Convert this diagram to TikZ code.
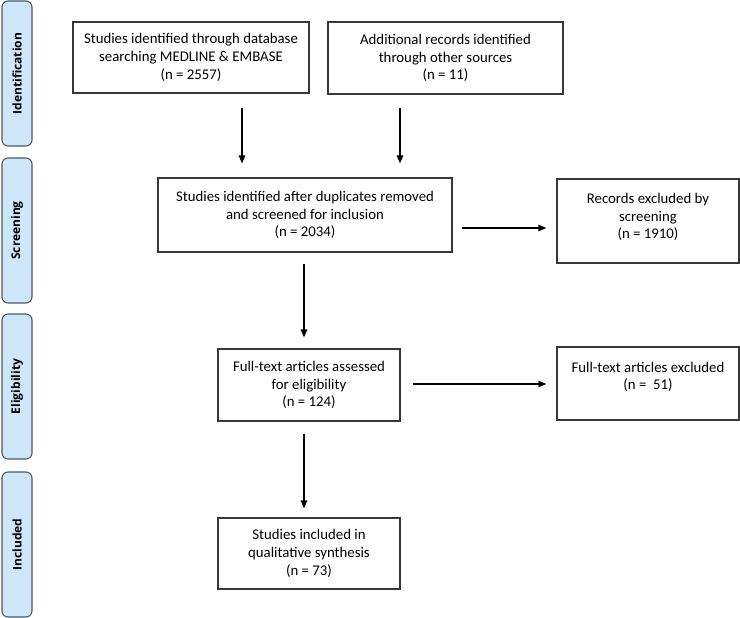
\documentclass[tikz,border=0pt]{standalone}
\usepackage{fontspec}
\setmainfont{Carlito}
\newfontfamily\sidefont{Open Sans}
\usetikzlibrary{arrows.meta}
\definecolor{barfill}{RGB}{206,231,250}
\definecolor{bardraw}{RGB}{78,88,98}
\definecolor{boxdraw}{RGB}{55,55,55}
\tikzset{
  stagebar/.style={draw=bardraw, fill=barfill, line width=1.1pt, rounded corners=6pt},
  stagetext/.style={font=\sidefont\bfseries\fontsize{12}{13}\selectfont, rotate=90, text=black},
  flowbox/.style={draw=boxdraw, line width=1.2pt, align=center, inner sep=0pt,
    font=\fontsize{14.8}{17.7}\selectfont},
  arr/.style={line width=1.2pt, draw=black, -{Triangle[length=8pt,width=6.5pt]}}
}
\begin{document}
\begin{tikzpicture}[x=1pt,y=-1pt]
\useasboundingbox (0,0) rectangle (740,618);
% stage bars
\path[stagebar] (2,1) rectangle (32,146) node[midway, stagetext] (s1) {Identification};
\path[stagebar] (2,158) rectangle (32,303) node[midway, stagetext] (s2) {Screening};
\path[stagebar] (2,314) rectangle (32,459) node[midway, stagetext] (s3) {Eligibility};
\path[stagebar] (2,472) rectangle (32,617) node[midway, stagetext] (s4) {Included};
% boxes
\node[flowbox, minimum width=236pt, minimum height=71pt] (b1) at (191,57.5)
  {Studies identified through database\\searching MEDLINE \& EMBASE\\(n = 2557)};
\node[flowbox, minimum width=235pt, minimum height=72pt] (b2) at (445.5,58)
  {Additional records identified\\through other sources\\(n = 11)};
\node[flowbox, minimum width=294pt, minimum height=74pt] (b3) at (305,215)
  {Studies identified after duplicates removed\\and screened for inclusion\\(n = 2034)};
\node[flowbox, minimum width=182pt, minimum height=84pt,
  label={[flowbox, draw=none, yshift=4pt]center:Records excluded by\\screening\\(n = 1910)}] (b4) at (648,221) {};
\node[flowbox, minimum width=182pt, minimum height=72pt] (b5) at (309,385)
  {Full-text articles assessed\\for eligibility\\(n = 124)};
\node[flowbox, minimum width=182pt, minimum height=73pt,
  label={[flowbox, draw=none, yshift=6.5pt]center:Full-text articles excluded\\(n =~~51)}] (b6) at (648,383.5) {};
\node[flowbox, minimum width=182pt, minimum height=71pt] (b7) at (309,553.5)
  {Studies included in\\qualitative synthesis\\(n = 73)};
% connector guide coordinates
\coordinate (c1) at (242,0);
\coordinate (c2) at (400,0);
\coordinate (c3) at (0,228);
\coordinate (c4) at (304,0);
\coordinate (c5) at (0,384);
% connectors
\draw[arr, shorten <=14pt, shorten >=14pt] (b1.south -| c1) -- (b3.north -| c1);
\draw[arr, shorten <=13pt, shorten >=14pt] (b2.south -| c2) -- (b3.north -| c2);
\draw[arr, shorten <=9pt, shorten >=10pt] (b3.east |- c3) -- (b4.west |- c3);
\draw[arr, shorten <=11pt, shorten >=11pt] (b3.south -| c4) -- (b5.north -| c4);
\draw[arr, shorten <=12pt, shorten >=10pt] (b5.east |- c5) -- (b6.west |- c5);
\draw[arr, shorten <=12pt, shorten >=9pt] (b5.south -| c4) -- (b7.north -| c4);
\end{tikzpicture}
\end{document}
